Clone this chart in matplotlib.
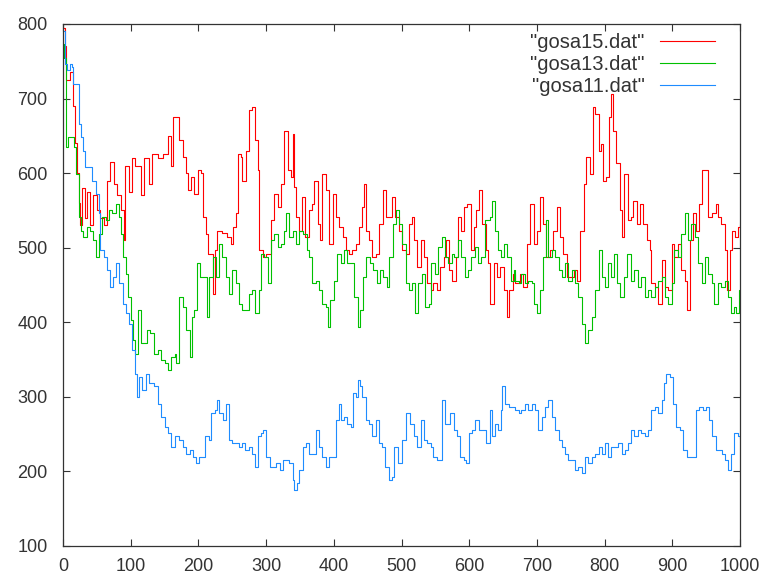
import matplotlib
matplotlib.use("Agg")
import matplotlib.pyplot as plt

# gosa15.dat (red)
x15 = [0, 3, 5, 10, 15, 18, 21, 23, 25, 28, 32, 36, 40, 45, 50, 55, 60, 65, 70, 75, 80, 85, 90, 92, 97,
       102, 107, 115, 120, 127, 132, 140, 147, 155, 160, 163, 167, 172, 177, 182, 184, 189, 194, 199,
       204, 206, 211, 214, 219, 221, 224, 228, 235, 242, 248, 251, 256, 258, 263, 265, 270, 275, 279,
       283, 288, 290, 295, 300, 307, 312, 317, 322, 327, 332, 336, 339, 341, 344, 349, 353, 358, 363,
       368, 371, 376, 379, 383, 388, 393, 398, 403, 408, 413, 418, 422, 427, 432, 437, 442, 445, 448,
       452, 457, 462, 467, 472, 477, 482, 486, 491, 496, 500, 506, 511, 515, 518, 523, 528, 533, 538,
       543, 547, 552, 557, 562, 566, 570, 575, 580, 583, 588, 592, 597, 602, 607, 610, 614, 619, 624,
       628, 631, 636, 641, 646, 651, 655, 659, 664, 668, 675, 680, 685, 690, 695, 700, 705, 709, 714,
       719, 724, 729, 734, 739, 744, 749, 754, 759, 764, 769, 773, 778, 782, 786, 791, 795, 798, 802,
       806, 809, 813, 817, 823, 826, 829, 834, 839, 842, 847, 852, 857, 862, 867, 869, 874, 879, 884,
       889, 894, 899, 903, 908, 913, 918, 922, 926, 931, 935, 939, 944, 949, 953, 958, 964, 967, 972,
       977, 981, 985, 988, 992, 997, 1000]
y15 = [795, 770, 725, 735, 690, 640, 600, 560, 530, 580, 540, 575, 530, 570, 550, 540, 530, 590, 615, 585,
       570, 550, 510, 610, 575, 620, 610, 570, 620, 585, 625, 620, 625, 650, 610, 675, 675, 644, 621, 600,
       577, 595, 572, 604, 600, 541, 519, 492, 492, 438, 497, 523, 520, 515, 505, 528, 546, 626, 621, 590,
       630, 684, 688, 644, 604, 497, 488, 492, 537, 572, 555, 586, 657, 604, 595, 653, 581, 541, 523, 568,
       514, 550, 559, 590, 532, 510, 599, 577, 505, 572, 541, 528, 514, 497, 492, 497, 505, 528, 555, 586,
       523, 510, 488, 492, 532, 577, 541, 541, 568, 541, 523, 497, 492, 532, 541, 510, 474, 510, 488, 452,
       443, 452, 443, 474, 488, 510, 470, 456, 488, 541, 523, 555, 559, 497, 528, 550, 577, 532, 497, 479,
       425, 479, 461, 474, 443, 407, 443, 465, 452, 465, 447, 505, 559, 505, 523, 568, 532, 488, 497, 523,
       555, 514, 492, 461, 461, 470, 456, 523, 586, 621, 599, 688, 679, 630, 639, 590, 595, 675, 706, 657,
       613, 550, 514, 599, 537, 541, 563, 532, 559, 532, 510, 497, 452, 447, 425, 483, 447, 443, 505, 488,
       505, 470, 456, 416, 510, 546, 523, 559, 604, 604, 541, 546, 559, 541, 532, 497, 443, 497, 523, 514,
       528, 530]

# gosa13.dat (green)
x13 = [0, 2, 4, 8, 13, 16, 19, 23, 26, 30, 35, 40, 45, 49, 53, 58, 63, 68, 73, 78, 83, 86, 89, 93, 96,
       100, 104, 107, 111, 115, 120, 124, 129, 134, 140, 145, 151, 155, 160, 165, 167, 172, 177, 182,
       187, 191, 194, 198, 202, 207, 212, 216, 221, 226, 230, 235, 240, 245, 250, 255, 260, 264, 269,
       274, 279, 284, 289, 292, 297, 302, 307, 312, 317, 322, 327, 330, 334, 339, 344, 349, 354, 360,
       364, 368, 373, 378, 383, 388, 391, 395, 400, 405, 410, 415, 420, 425, 430, 435, 438, 443, 448,
       453, 458, 463, 468, 473, 478, 482, 487, 492, 496, 500, 506, 511, 515, 520, 525, 530, 535, 540,
       544, 549, 554, 559, 564, 569, 574, 578, 583, 588, 593, 598, 603, 608, 613, 618, 623, 628, 631,
       634, 638, 642, 647, 651, 656, 661, 666, 668, 673, 677, 682, 687, 692, 696, 700, 705, 709, 713,
       717, 722, 727, 732, 737, 741, 746, 751, 756, 761, 766, 771, 776, 781, 786, 791, 796, 800, 805,
       810, 814, 818, 823, 828, 833, 839, 844, 849, 854, 859, 864, 869, 874, 879, 884, 889, 894, 899,
       903, 908, 913, 918, 923, 928, 933, 938, 943, 948, 953, 958, 962, 967, 972, 977, 982, 987, 991,
       994, 998, 1000]
y13 = [773, 755, 635, 648, 648, 635, 599, 541, 523, 514, 528, 523, 510, 488, 519, 541, 537, 550, 546, 559,
       541, 519, 488, 465, 434, 403, 376, 358, 416, 372, 372, 389, 385, 358, 363, 349, 345, 336, 354, 358,
       345, 434, 421, 389, 354, 407, 416, 479, 461, 461, 407, 461, 488, 461, 505, 488, 461, 438, 470, 452,
       425, 416, 416, 438, 443, 412, 443, 492, 488, 452, 510, 519, 501, 505, 523, 546, 514, 523, 505, 523,
       519, 497, 488, 452, 456, 443, 425, 421, 394, 430, 456, 492, 479, 497, 479, 479, 434, 394, 416, 461,
       488, 479, 470, 452, 470, 461, 447, 488, 532, 550, 532, 505, 452, 443, 452, 412, 452, 465, 421, 425,
       479, 465, 501, 514, 488, 479, 492, 488, 510, 488, 461, 470, 488, 501, 479, 488, 537, 537, 541, 563,
       523, 497, 488, 505, 488, 456, 470, 456, 452, 465, 452, 456, 452, 425, 412, 443, 488, 537, 488, 497,
       488, 470, 461, 479, 456, 470, 452, 434, 398, 372, 389, 407, 443, 497, 461, 447, 479, 461, 492, 452,
       434, 461, 492, 456, 470, 447, 461, 434, 443, 434, 447, 456, 461, 434, 425, 452, 497, 488, 519, 546,
       510, 532, 514, 479, 452, 488, 465, 452, 425, 452, 447, 456, 434, 412, 421, 412, 443, 440]

# gosa11.dat (blue)
x11 = [0, 3, 6, 10, 13, 15, 19, 23, 26, 30, 33, 38, 43, 48, 53, 55, 60, 65, 70, 74, 78, 83, 88, 93, 97,
       102, 106, 109, 112, 117, 122, 127, 134, 140, 145, 150, 155, 160, 165, 172, 177, 182, 187, 192,
       197, 201, 206, 210, 215, 219, 224, 227, 231, 236, 240, 245, 250, 255, 260, 264, 269, 274, 279,
       284, 288, 292, 296, 300, 305, 310, 315, 320, 325, 330, 334, 339, 341, 345, 349, 354, 359, 363,
       368, 373, 378, 383, 388, 393, 399, 403, 407, 410, 415, 420, 425, 428, 432, 435, 438, 442, 447,
       452, 457, 462, 466, 471, 476, 481, 486, 489, 494, 500, 506, 510, 513, 518, 523, 528, 533, 538,
       543, 547, 552, 557, 560, 564, 569, 572, 577, 582, 587, 592, 595, 599, 604, 609, 614, 619, 624,
       630, 634, 638, 643, 647, 649, 653, 658, 663, 668, 673, 677, 682, 687, 692, 697, 702, 707, 712,
       717, 722, 727, 732, 737, 741, 746, 751, 756, 761, 766, 771, 776, 781, 786, 791, 796, 800, 805,
       810, 815, 820, 825, 830, 834, 839, 844, 849, 854, 859, 864, 869, 874, 879, 884, 888, 891, 896,
       901, 906, 911, 916, 921, 926, 931, 935, 940, 945, 949, 954, 959, 964, 968, 973, 978, 982, 986,
       991, 997, 1000]
y11 = [791, 746, 738, 746, 742, 720, 720, 666, 648, 630, 608, 608, 590, 572, 546, 497, 488, 470, 447, 461,
       479, 452, 425, 412, 398, 363, 331, 300, 327, 309, 331, 318, 314, 291, 273, 260, 251, 233, 247, 242,
       233, 224, 229, 220, 211, 220, 220, 247, 242, 278, 282, 296, 278, 269, 291, 242, 238, 238, 233, 238,
       229, 233, 224, 206, 247, 251, 256, 220, 206, 206, 211, 202, 215, 215, 211, 189, 175, 184, 202, 233,
       238, 224, 224, 256, 233, 220, 206, 220, 220, 269, 291, 269, 273, 264, 260, 305, 300, 322, 314, 300,
       269, 264, 247, 269, 238, 233, 206, 189, 193, 233, 211, 242, 278, 278, 264, 247, 233, 269, 242, 238,
       233, 220, 215, 215, 296, 264, 264, 278, 256, 247, 220, 215, 211, 251, 256, 269, 256, 256, 238, 282,
       247, 264, 256, 282, 314, 291, 287, 287, 282, 278, 282, 291, 282, 291, 282, 256, 273, 287, 296, 273,
       256, 242, 233, 224, 215, 215, 202, 206, 198, 220, 211, 220, 224, 233, 224, 238, 220, 233, 233, 238,
       224, 229, 238, 256, 247, 256, 251, 247, 256, 282, 287, 278, 296, 318, 331, 327, 291, 260, 256, 229,
       220, 220, 220, 282, 287, 282, 287, 269, 247, 229, 229, 224, 215, 202, 224, 251, 247, 245]

plt.rcParams['font.family'] = ['Liberation Sans Narrow', 'Liberation Sans', 'DejaVu Sans']

fig = plt.figure(figsize=(7.63, 5.79), dpi=100)
ax = fig.add_axes([0.0826, 0.057, 0.8874, 0.9016])

ax.plot(x15, y15, color='#ff0000', lw=0.8, drawstyle='steps-post', label='"gosa15.dat"')
ax.plot(x13, y13, color='#00c000', lw=0.8, drawstyle='steps-post', label='"gosa13.dat"')
ax.plot(x11, y11, color='#1e8cff', lw=0.8, drawstyle='steps-post', label='"gosa11.dat"')

ax.set_xlim(0, 1000)
ax.set_ylim(100, 800)
ax.set_xticks(range(0, 1001, 100))
ax.set_yticks(range(100, 801, 100))
ax.tick_params(direction='in', length=5, width=0.8, top=True, right=True,
               labelsize=13, labelcolor='#333333', color='#333333')
ax.tick_params(axis='y', pad=11)
ax.tick_params(axis='x', pad=9)
for s in ax.spines.values():
    s.set_color('#333333')
    s.set_linewidth(0.9)

leg = ax.legend(loc='upper right', bbox_to_anchor=(0.963, 0.983), frameon=False, markerfirst=False,
                borderpad=0, borderaxespad=0, handlelength=2.75, handletextpad=0.75,
                labelspacing=0.15, prop={'family': ['Liberation Sans', 'DejaVu Sans'], 'size': 14.5})
for t in leg.get_texts():
    t.set_color('#333333')

fig.savefig('out.png', dpi=100)
